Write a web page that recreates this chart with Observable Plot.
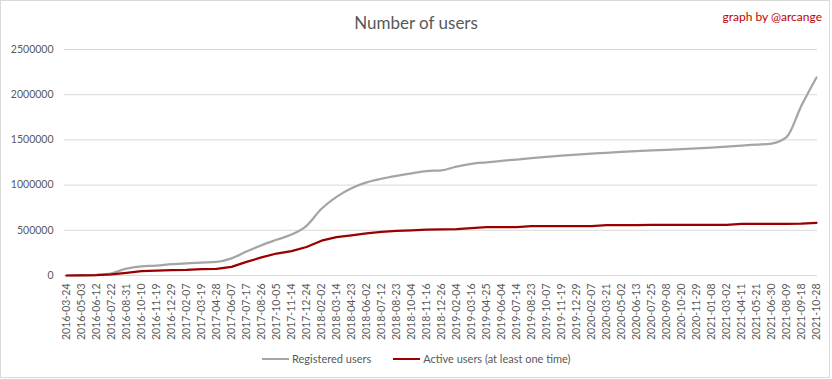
<!DOCTYPE html>
<html><head><meta charset="utf-8">
<script src="https://cdn.jsdelivr.net/npm/d3@7"></script>
<script src="https://cdn.jsdelivr.net/npm/@observablehq/plot@0.6"></script>
<style>
body{margin:0;background:#fff;font-family:Lato,"Open Sans",sans-serif;}
#chart{position:relative;width:830px;height:378px;border:1px solid #d9d9d9;box-sizing:border-box;overflow:hidden;background:#fff}
#title{position:absolute;top:11px;left:0;width:830px;text-align:center;font-size:17px;color:#595959;}
#credit{position:absolute;top:8px;right:7px;font-size:12px;color:#c00000;}
#plot{position:absolute;top:0;left:0;}
#legend{position:absolute;top:350px;left:261px;font-size:11px;color:#595959;display:flex;align-items:center;white-space:nowrap;line-height:16px}
.sw{display:inline-block;width:27px;height:2px;margin-right:3px}
</style></head><body>
<div id="chart">
<div id="plot"></div>
<div id="title">Number of users</div>
<div id="credit">graph by @arcange</div>
<div id="legend"><span class="sw" style="background:#a5a5a5"></span><span>Registered users</span><span class="sw" style="background:#990000;margin-left:22px"></span><span>Active users (at least one time)</span></div>
</div>
<script>
const dates = ["2016-03-24","2016-05-03","2016-06-12","2016-07-22","2016-08-31","2016-10-10","2016-11-19","2016-12-29",
"2017-02-07","2017-03-19","2017-04-28","2017-06-07","2017-07-17","2017-08-26","2017-10-05","2017-11-14","2017-12-24",
"2018-02-02","2018-03-14","2018-04-23","2018-06-02","2018-07-12","2018-08-23","2018-10-04","2018-11-16","2018-12-26",
"2019-02-04","2019-03-16","2019-04-25","2019-06-04","2019-07-14","2019-08-23","2019-10-07","2019-11-19","2019-12-29",
"2020-02-07","2020-03-21","2020-05-02","2020-06-13","2020-07-25","2020-09-08","2020-10-20","2020-11-29",
"2021-01-08","2021-03-02","2021-04-11","2021-05-21","2021-06-30","2021-08-09","2021-09-18","2021-10-28"];
const registered = [0,3000,8000,25000,75000,100000,110000,125000,135000,142000,150000,190000,265000,335000,395000,453000,550000,
738000,870000,965000,1030000,1070000,1102000,1130000,1155000,1163000,1205000,1235000,1252000,1267000,1283000,1298000,1312000,
1325000,1337000,1348000,1357000,1367000,1375000,1383000,1390000,1398000,1406000,1415000,1425000,1436000,1448000,1460000,1530000,1880000,2190000];
const active = [0,2000,5000,12000,30000,48000,55000,60000,63000,70000,74000,95000,150000,200000,243000,269000,315000,
385000,425000,445000,465000,482000,493000,500000,508000,511000,512000,523000,534000,534000,534000,545000,545000,
545000,545000,545000,556000,558000,558000,559000,559000,560000,560000,560000,560000,572000,572000,572000,572000,573000,583000];
const yTicks = [0,500000,1000000,1500000,2000000,2500000];

const rows = dates.map((d,i)=>({date:d, registered:registered[i], active:active[i]}));

const chart = Plot.plot({
  width: 828, height: 340,
  marginLeft: 63, marginRight: 12, marginTop: 48, marginBottom: 66,
  style: {fontFamily: "Lato, 'Open Sans', sans-serif", fontSize: "10.5px", color: "#595959", background: "transparent"},
  x: {type: "point", domain: dates, padding: 0},
  y: {domain: [0, 2500000]},
  marks: [
    Plot.gridY(yTicks, {stroke: "#d9d9d9", strokeOpacity: 1, strokeWidth: 1}),
    Plot.axisY(yTicks, {tickSize: 0, tickPadding: 11, tickFormat: d => String(d), fill: "#595959", label: null}),
    Plot.axisX({tickSize: 0, tickPadding: 8, tickRotate: -90, fill: "#595959", label: null}),
    Plot.line(rows, {x: "date", y: "registered", stroke: "#a5a5a5", strokeWidth: 2.25, curve: "monotone-x"}),
    Plot.line(rows, {x: "date", y: "active", stroke: "#990000", strokeWidth: 2.25})
  ]
});
document.getElementById("plot").appendChild(chart);
</script>
</body></html>
